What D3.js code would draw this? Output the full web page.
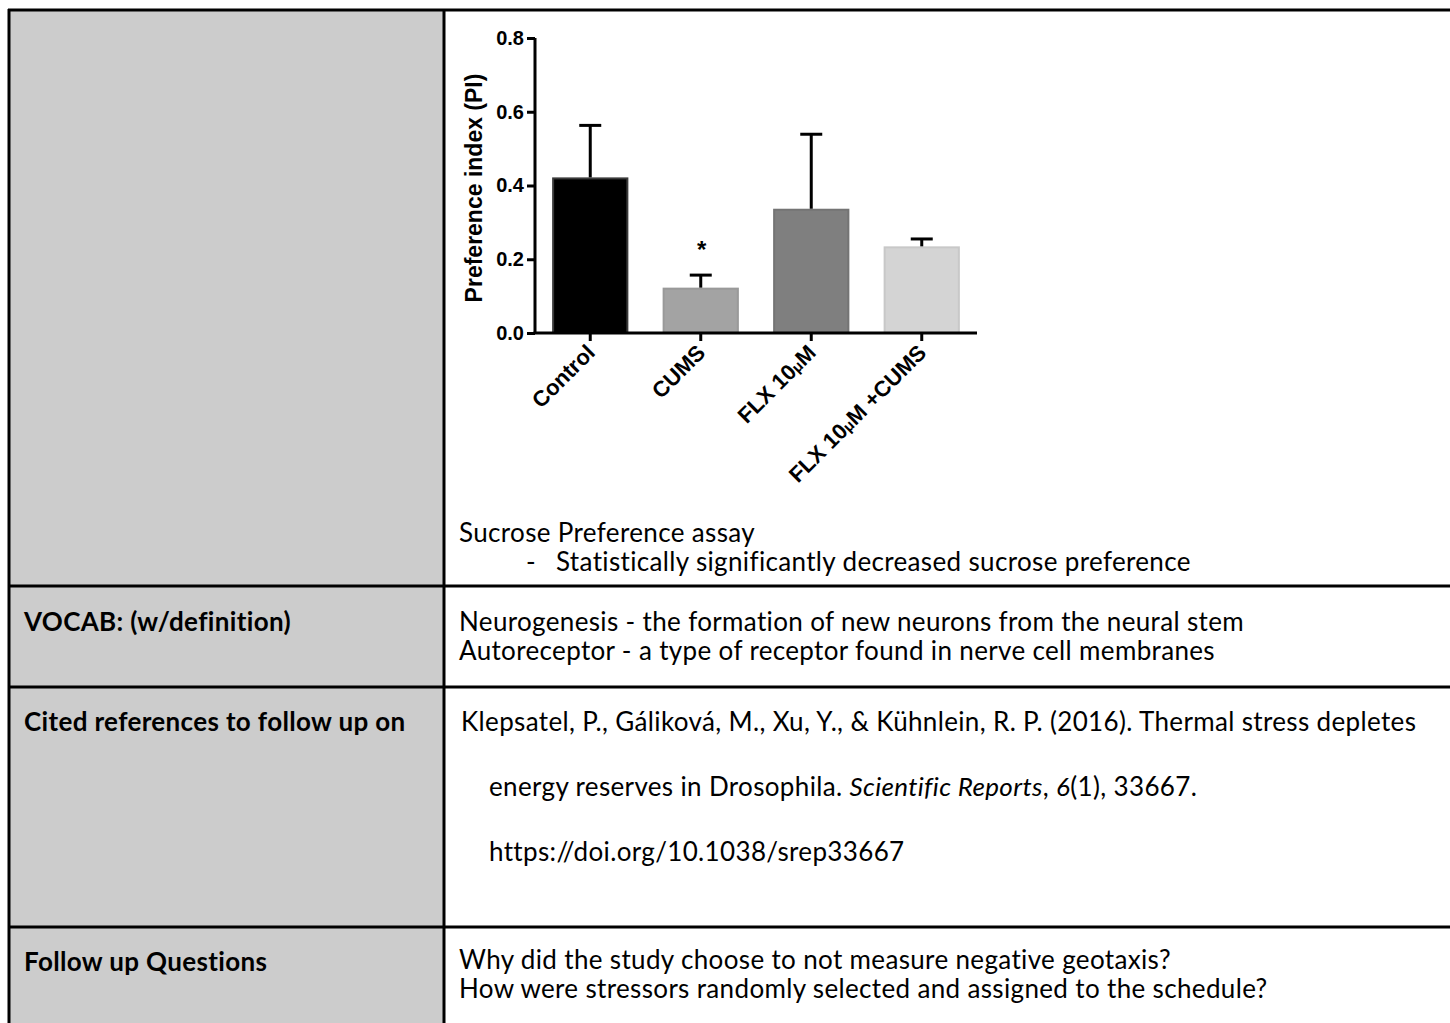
<!DOCTYPE html>
<html><head><meta charset="utf-8">
<script src="https://cdn.jsdelivr.net/npm/d3@7"></script>
<style>body{margin:0;background:#fff}svg{display:block}</style>
</head><body>
<svg id="c" width="1450" height="1023"></svg>
<script>
// ---- chart data ----
const categories = ["Control", "CUMS", "FLX 10μM", "FLX 10μM +CUMS"];
const means = [0.422, 0.123, 0.337, 0.235];
const errTops = [0.563, 0.157, 0.539, 0.255];
const barColors = ["#000000", "#a3a3a3", "#7f7f7f", "#d4d4d4"];
const barStrokes = ["#3a3a3a", "#999999", "#747474", "#c8c8c8"];
const yTicks = [0, 0.2, 0.4, 0.6, 0.8];
const yTitle = "Preference index (PI)";
const sigMarks = ["", "*", "", ""];
const sigLevel = [0, 0.238, 0, 0];

// ---- table text ----
const captionLines = ["Sucrose Preference assay", "Statistically significantly decreased sucrose preference"];
const rowLabels = ["VOCAB: (w/definition)", "Cited references to follow up on", "Follow up Questions"];
const vocabLines = ["Neurogenesis - the formation of new neurons from the neural stem",
                    "Autoreceptor - a type of receptor found in nerve cell membranes"];
const questionLines = ["Why did the study choose to not measure negative geotaxis?",
                       "How were stressors randomly selected and assigned to the schedule?"];

const svg = d3.select("#c");
const BODY = "Lato, 'Open Sans', sans-serif";
const ARIAL = "'Liberation Sans', Arial, sans-serif";
const FS = 26, LS = 0.35;

// ---- table ----
svg.append("rect").attr("x", 9).attr("y", 10).attr("width", 435).attr("height", 1013).attr("fill", "#cccccc");
const g = svg.append("g").attr("stroke", "#000").attr("stroke-width", 3);
g.append("line").attr("x1", 8).attr("x2", 1450).attr("y1", 10).attr("y2", 10);
g.append("line").attr("x1", 9).attr("x2", 9).attr("y1", 9).attr("y2", 1023);
g.append("line").attr("x1", 444).attr("x2", 444).attr("y1", 10).attr("y2", 1023);
[586, 687, 927].forEach(yy => g.append("line").attr("x1", 8).attr("x2", 1450).attr("y1", yy).attr("y2", yy));

// ---- bar chart ----
const x = d3.scaleBand().domain(categories).range([535, 977]).paddingInner(0.31).paddingOuter(0.155);
const y = d3.scaleLinear().domain([0, 0.8]).range([333, 38]);
const chart = svg.append("g");

chart.selectAll("rect.bar").data(categories).join("rect")
  .attr("class", "bar")
  .attr("x", d => x(d) + 1).attr("width", x.bandwidth() - 2)
  .attr("y", (d, i) => y(means[i]) + 1).attr("height", (d, i) => y(0) - y(means[i]) - 1)
  .attr("fill", (d, i) => barColors[i])
  .attr("stroke", (d, i) => barStrokes[i]).attr("stroke-width", 2);

const eb = chart.append("g").attr("stroke", "#000").attr("stroke-width", 3);
categories.forEach((c, i) => {
  const cx = x(c) + x.bandwidth() / 2;
  eb.append("line").attr("x1", cx).attr("x2", cx).attr("y1", y(means[i])).attr("y2", y(errTops[i]));
  eb.append("line").attr("x1", cx - 11).attr("x2", cx + 11).attr("y1", y(errTops[i])).attr("y2", y(errTops[i]));
  if (sigMarks[i]) {
    chart.append("text").attr("x", cx + 1).attr("y", y(sigLevel[i]) + 13)
      .attr("text-anchor", "middle").attr("font-family", ARIAL).attr("font-weight", "bold")
      .attr("font-size", 24).text(sigMarks[i]);
  }
});

const yAxis = chart.append("g").attr("transform", "translate(535,0)")
  .call(d3.axisLeft(y).tickValues(yTicks).tickFormat(d3.format(".1f")).tickSize(8).tickSizeOuter(0).tickPadding(3));
const xAxis = chart.append("g").attr("transform", "translate(0,333)")
  .call(d3.axisBottom(x).tickSize(8).tickSizeOuter(0).tickFormat(""));
[yAxis, xAxis].forEach(a => {
  a.selectAll("path,line").attr("stroke", "#000").attr("stroke-width", 3);
});
yAxis.select(".domain").attr("d", `M0,${y(0)}V${y(0.8)}`);
xAxis.select(".domain").attr("d", `M533.5,0H977`);
yAxis.selectAll("text").attr("font-family", ARIAL).attr("font-weight", "bold").attr("font-size", 20).attr("fill", "#000");

// rotated category labels
categories.forEach(c => {
  const cx = x(c) + x.bandwidth() / 2;
  const t = chart.append("text")
    .attr("transform", `translate(${cx + 6},${354}) rotate(-45)`)
    .attr("text-anchor", "end").attr("font-family", ARIAL).attr("font-weight", "bold").attr("font-size", 22);
  c.split(/(μ)/).forEach(part => {
    if (!part) return;
    t.append("tspan").attr("font-size", part === "μ" ? 15 : 22).text(part);
  });
});

chart.append("text").attr("transform", "translate(482,188) rotate(-90)")
  .attr("text-anchor", "middle").attr("font-family", ARIAL).attr("font-weight", "bold")
  .attr("font-size", 23).text(yTitle);

// ---- table text ----
const body = (xx, yy, txt) => svg.append("text").attr("x", xx).attr("y", yy)
  .attr("font-family", BODY).attr("font-size", FS).attr("letter-spacing", LS).attr("fill", "#000").text(txt);

body(459, 542, captionLines[0]);
body(526, 571, "-");
body(556, 571, captionLines[1]);

[631, 731, 971].forEach((yy, i) => svg.append("text").attr("x", 24).attr("y", yy)
  .attr("font-family", BODY).attr("font-size", FS).attr("letter-spacing", LS)
  .attr("font-weight", "bold").text(rowLabels[i]));

body(459, 631, vocabLines[0]);
body(459, 660, vocabLines[1]);

body(461, 731, "Klepsatel, P., Gáliková, M., Xu, Y., & Kühnlein, R. P. (2016). Thermal stress depletes");
const l2 = svg.append("text").attr("x", 489).attr("y", 796).attr("font-family", BODY)
  .attr("font-size", FS).attr("letter-spacing", LS);
l2.append("tspan").text("energy reserves in Drosophila. ");
l2.append("tspan").attr("font-style", "italic").text("Scientific Reports");
l2.append("tspan").text(", ");
l2.append("tspan").attr("font-style", "italic").text("6");
l2.append("tspan").text("(1), 33667.");
body(489, 861, "https://doi.org/10.1038/srep33667");

body(459, 969, questionLines[0]);
body(459, 998, questionLines[1]);
</script>
</body></html>
